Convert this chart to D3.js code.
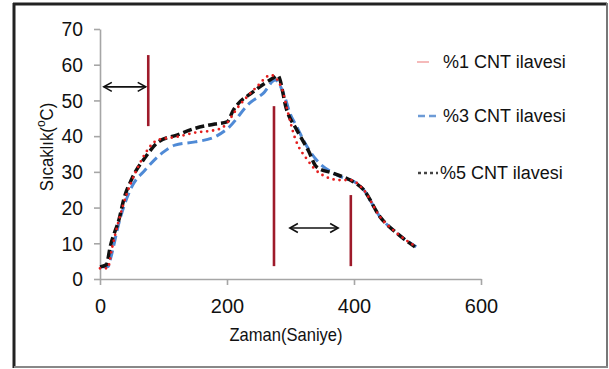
<!DOCTYPE html>
<html>
<head>
<meta charset="utf-8">
<script src="https://cdn.jsdelivr.net/npm/d3@7"></script>
<style>
  body { margin: 0; background: #fff; }
  svg { display: block; font-family: "Liberation Sans", Arial, sans-serif; }
</style>
</head>
<body>
<svg id="chart" width="609" height="369"></svg>
<script>
// zaman (saniye) / sicaklik values
var time1 = [0, 12, 19, 37, 60, 92, 121, 150, 181, 192, 220, 247, 269, 287, 294, 307, 326, 346, 378, 394, 415, 441, 467, 498];
var temp1 = [3, 3, 8.7, 21, 31.4, 39, 39.8, 41, 41.7, 42.3, 48.7, 53.8, 57.1, 53, 48, 39.5, 33.5, 29.6, 27.7, 27.7, 25, 17.4, 12.9, 9];

var time3 = [0, 13, 16, 31, 50, 71, 98, 118, 150, 181, 202, 236, 257, 276, 291, 299, 310, 323, 341, 367, 389, 398, 415, 441, 467, 498];
var temp3 = [3.4, 3.5, 5.3, 16.5, 25.8, 30.5, 35.3, 37.5, 38.4, 39.8, 42.3, 49.3, 52, 55.7, 51, 46.5, 42.6, 38, 33.3, 29.7, 28, 27.5, 25, 17.4, 12.9, 9];

var time5 = [0, 10, 16, 31, 37, 50, 71, 92, 121, 150, 181, 200, 210, 241, 276, 280, 294, 310, 328, 341, 367, 394, 415, 441, 467, 496];
var temp5 = [3.4, 4, 9, 17.4, 22, 28, 34, 38.4, 40.3, 42.2, 43.4, 44, 47.3, 52.4, 56.6, 57, 47.3, 41.7, 36, 31.4, 29.6, 27.7, 25, 17.4, 12.9, 9];

var legendNames = ['%1 CNT ilavesi', '%3 CNT ilavesi', '%5 CNT ilavesi'];
var xTicks = [0, 200, 400, 600];
var yTicks = [0, 10, 20, 30, 40, 50, 60, 70];

// red marker lines: [time, from, to]
var markers = [[76, 62.7, 42.8], [274, 48.4, 3.6], [395, 23.5, 3.6]];
// double arrows: [t1, t2, temp]
var arrows = [[6, 72, 53.8], [299, 375, 14.3]];

var svg = d3.select('#chart');

// frame
svg.append('line').attr('x1', 13).attr('y1', 4).attr('x2', 607).attr('y2', 4).attr('stroke', '#222').attr('stroke-width', 3);
svg.append('line').attr('x1', 14).attr('y1', 3).attr('x2', 14).attr('y2', 368).attr('stroke', '#222').attr('stroke-width', 3);
svg.append('line').attr('x1', 607).attr('y1', 3).attr('x2', 607).attr('y2', 368).attr('stroke', '#777').attr('stroke-width', 2);
svg.append('line').attr('x1', 14).attr('y1', 367).attr('x2', 608).attr('y2', 367).attr('stroke', '#888').attr('stroke-width', 2);

var x = d3.scaleLinear().domain([0, 600]).range([100, 481]);
var y = d3.scaleLinear().domain([0, 70]).range([279, 29]);

var gx = svg.append('g').attr('transform', 'translate(0,279)')
    .call(d3.axisBottom(x).tickValues(xTicks).tickSize(6).tickPadding(13).tickSizeOuter(0));
var gy = svg.append('g').attr('transform', 'translate(100,0)')
    .call(d3.axisLeft(y).tickValues(yTicks).tickSize(6).tickPadding(11).tickSizeOuter(0));

[gx, gy].forEach(function(g) {
    g.select('.domain').attr('stroke', '#a6a6a6').attr('stroke-width', 1.6);
    g.selectAll('.tick line').attr('stroke', '#a6a6a6').attr('stroke-width', 1.6);
    g.selectAll('.tick text').attr('font-size', 21).attr('fill', '#111')
        .attr('font-family', '"Liberation Sans", Arial, sans-serif');
});
gy.selectAll('.tick text').attr('transform', 'scale(0.92,1)').attr('x', -17 / 0.92);
gx.selectAll('.tick text').attr('transform', 'scale(0.95,1)');

// axis titles
svg.append('text').attr('transform', 'translate(286,341) scale(0.92,1)')
    .attr('text-anchor', 'middle').attr('font-size', 18).attr('fill', '#111')
    .text('Zaman(Saniye)');

var yt = svg.append('text').attr('transform', 'translate(53,147) rotate(-90) scale(0.93,1)')
    .attr('text-anchor', 'middle').attr('font-size', 18).attr('fill', '#111');
yt.append('tspan').text('Sıcaklık(');
yt.append('tspan').attr('font-size', 13).attr('dy', -8).text('o');
yt.append('tspan').attr('dy', 8).text('C)');

// curves
var line = d3.line()
    .x(function(d) { return x(d[0]); })
    .y(function(d) { return y(d[1]); })
    .curve(d3.curveMonotoneX);

function zipUp(ts, vs) {
    return ts.map(function(t, i) { return [t, vs[i]]; });
}

svg.append('path').datum(zipUp(time3, temp3)).attr('d', line)
    .attr('fill', 'none').attr('stroke', '#4f8ad6').attr('stroke-width', 3)
    .attr('stroke-dasharray', '10,5');
svg.append('path').datum(zipUp(time5, temp5)).attr('d', line)
    .attr('fill', 'none').attr('stroke', '#111').attr('stroke-width', 3.5)
    .attr('stroke-dasharray', '9,4');
svg.append('path').datum(zipUp(time1, temp1)).attr('d', line)
    .attr('fill', 'none').attr('stroke', '#e41e1e').attr('stroke-width', 2.8)
    .attr('stroke-linecap', 'round').attr('stroke-dasharray', '0,6');

// red marker lines
svg.selectAll('.marker').data(markers).enter().append('line')
    .attr('class', 'marker')
    .attr('x1', function(d) { return x(d[0]); }).attr('x2', function(d) { return x(d[0]); })
    .attr('y1', function(d) { return y(d[1]); }).attr('y2', function(d) { return y(d[2]); })
    .attr('stroke', '#9e1a2a').attr('stroke-width', 2.6);

// double arrows
arrows.forEach(function(a) {
    var x1 = x(a[0]), x2 = x(a[1]), yy = y(a[2]);
    var g = svg.append('g').attr('fill', 'none').attr('stroke', '#111').attr('stroke-width', 1.6);
    g.append('line').attr('x1', x1).attr('x2', x2).attr('y1', yy).attr('y2', yy);
    g.append('path').attr('d', 'M' + (x1 + 8) + ',' + (yy - 4.5) + 'L' + x1 + ',' + yy + 'L' + (x1 + 8) + ',' + (yy + 4.5));
    g.append('path').attr('d', 'M' + (x2 - 8) + ',' + (yy - 4.5) + 'L' + x2 + ',' + yy + 'L' + (x2 - 8) + ',' + (yy + 4.5));
});

// legend
var legendY = [62, 116, 173];
var lg = svg.append('g');
lg.append('line').attr('x1', 417).attr('x2', 429).attr('y1', legendY[0]).attr('y2', legendY[0])
    .attr('stroke', '#f2a3a3').attr('stroke-width', 1.5);
lg.append('line').attr('x1', 418).attr('x2', 437).attr('y1', legendY[1]).attr('y2', legendY[1])
    .attr('stroke', '#6d9bd6').attr('stroke-width', 2.5).attr('stroke-dasharray', '7,4');
lg.append('line').attr('x1', 418).attr('x2', 438).attr('y1', legendY[2]).attr('y2', legendY[2])
    .attr('stroke', '#444').attr('stroke-width', 2.5).attr('stroke-dasharray', '3,3');
legendNames.forEach(function(name, i) {
    lg.append('text').attr('transform', 'translate(' + (i === 2 ? 440 : 443) + ',' + (legendY[i] + 6) + ')')
        .attr('font-size', 18).attr('fill', '#111').text(name);
});
</script>
</body>
</html>
